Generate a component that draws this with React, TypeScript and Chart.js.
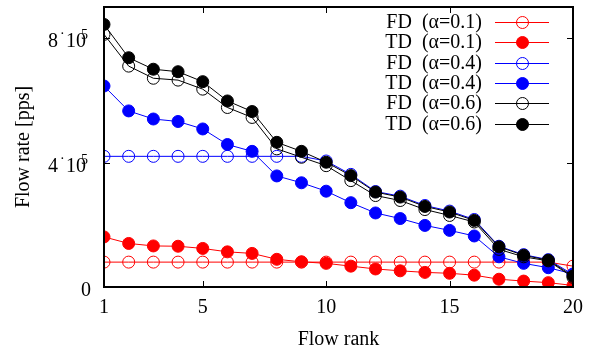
import React, { useEffect, useRef } from "react";
import { Chart, registerables } from "chart.js";

Chart.register(...registerables);

const ranks = [1, 2, 3, 4, 5, 6, 7, 8, 9, 10, 11, 12, 13, 14, 15, 16, 17, 18, 19, 20];
const xTickValues = [1, 5, 10, 15, 20];
const yTickValues = [0, 400000, 800000];
const yTickMantissa = ["0", "4", "8"];
const yTickExponent = ["", "5", "5"];

const fd01 = [80000, 80000, 80000, 80000, 80000, 80000, 80000, 80000, 80000, 80000, 80000, 80000, 80000, 80000, 80000, 80000, 80000, 80000, 80000, 67000];
const td01 = [161000, 140000, 132000, 131000, 124000, 113000, 108000, 89000, 81000, 76000, 67000, 58000, 52000, 47000, 44000, 38000, 25000, 19000, 14000, 5000];
const fd04 = [420000, 420000, 420000, 420000, 420000, 420000, 420000, 420000, 420000, 405000, 362000, 307000, 292000, 262000, 244000, 217000, 131000, 104000, 88000, 40000];
const td04 = [646000, 566000, 540000, 532000, 508000, 458000, 436000, 357000, 335000, 308000, 271000, 238000, 220000, 198000, 182000, 164000, 97000, 76000, 62000, 42000];
const fd06 = [812000, 710000, 671000, 665000, 636000, 577000, 545000, 444000, 417000, 390000, 342000, 294000, 278000, 249000, 230000, 209000, 121000, 97000, 84000, 31000];
const td06 = [844000, 737000, 700000, 692000, 660000, 598000, 564000, 465000, 436000, 401000, 358000, 305000, 289000, 259000, 241000, 214000, 129000, 102000, 86000, 35000];

const seriesLabels = ["FD  (α=0.1)", "TD  (α=0.1)", "FD  (α=0.4)", "TD  (α=0.4)", "FD  (α=0.6)", "TD  (α=0.6)"];
const seriesValues = [fd01, td01, fd04, td04, fd06, td06];
const seriesColors = ["#ff0000", "#ff0000", "#0000ff", "#0000ff", "#000000", "#000000"];
const seriesFilled = [false, true, false, true, false, true];

const FONT = "'Liberation Serif', 'Times New Roman', 'DejaVu Serif', serif";

const frameAndLegend = {
  id: "frameAndLegend",
  afterDraw(chart: any) {
    const ctx = chart.ctx;
    const xs = chart.scales.x;
    const ys = chart.scales.y;
    const L = xs.left;
    const R = xs.right;
    const T = ys.top;
    const B = ys.bottom;
    ctx.save();

    // y tick labels with raised dot and superscript exponent
    ctx.fillStyle = "#000";
    ctx.textBaseline = "alphabetic";
    for (let i = 0; i < yTickValues.length; i++) {
      const py = ys.getPixelForValue(yTickValues[i]);
      const base = py + 9;
      if (yTickExponent[i] === "") {
        ctx.font = `20px ${FONT}`;
        ctx.textAlign = "right";
        ctx.fillText(yTickMantissa[i], 91, base);
      } else {
        ctx.textAlign = "left";
        ctx.font = `20px ${FONT}`;
        ctx.fillText(yTickMantissa[i], 48, base);
        ctx.font = `14px ${FONT}`;
        ctx.fillText("·", 60, base - 9);
        ctx.font = `20px ${FONT}`;
        ctx.fillText("10", 66, base);
        ctx.font = `14px ${FONT}`;
        ctx.fillText(yTickExponent[i], 81, base - 8);
      }
    }

    // legend (gnuplot style: text, then line sample with marker)
    ctx.font = `20px ${FONT}`;
    ctx.textAlign = "right";
    ctx.textBaseline = "middle";
    const textRight = 482;
    const lineL = 495;
    const lineR = 549;
    const mx = 522.5;
    for (let i = 0; i < seriesLabels.length; i++) {
      const y = Math.round(22 + i * 20.3);
      ctx.fillStyle = "#000";
      ctx.fillText(seriesLabels[i], textRight, y + 1);
      ctx.strokeStyle = seriesColors[i];
      ctx.lineWidth = 1;
      ctx.beginPath();
      ctx.moveTo(lineL, y + 0.5);
      ctx.lineTo(lineR, y + 0.5);
      ctx.stroke();
      ctx.beginPath();
      ctx.arc(mx, y + 0.5, 6, 0, Math.PI * 2);
      if (seriesFilled[i]) {
        ctx.fillStyle = seriesColors[i];
        ctx.fill();
      }
      ctx.stroke();
    }

    // inward ticks on all four sides
    ctx.strokeStyle = "#000";
    ctx.lineWidth = 1;
    const tl = 6;
    ctx.beginPath();
    for (let i = 0; i < xTickValues.length; i++) {
      const px = Math.round(xs.getPixelForValue(xTickValues[i])) + 0.5;
      ctx.moveTo(px, B);
      ctx.lineTo(px, B - tl);
      ctx.moveTo(px, T);
      ctx.lineTo(px, T + tl);
    }
    for (let i = 0; i < yTickValues.length; i++) {
      const py = Math.round(ys.getPixelForValue(yTickValues[i])) + 0.5;
      ctx.moveTo(L, py);
      ctx.lineTo(L + tl, py);
      ctx.moveTo(R, py);
      ctx.lineTo(R - tl, py);
    }
    ctx.stroke();

    // plot frame
    ctx.lineWidth = 2;
    ctx.strokeRect(L, T, R - L, B - T);
    ctx.restore();
  },
};

export default function App() {
  const ref = useRef<HTMLCanvasElement | null>(null);
  useEffect(() => {
    document.body.style.margin = "0";
    const canvas = ref.current;
    if (!canvas) return;
    // index 0 is drawn last (on top), so list the series in reverse order
    const idx = [5, 4, 3, 2, 1, 0];
    const datasets = idx.map((i) => ({
      label: seriesLabels[i],
      data: ranks.map((r, j) => ({ x: r, y: seriesValues[i][j] })),
      borderColor: seriesColors[i],
      backgroundColor: seriesColors[i],
      borderWidth: 1,
      pointRadius: 6,
      pointBorderWidth: 1,
      pointBorderColor: seriesColors[i],
      pointBackgroundColor: seriesFilled[i] ? seriesColors[i] : "rgba(255,255,255,0)",
      tension: 0,
      fill: false,
    }));
    const chart = new Chart(canvas, {
      type: "line",
      data: { datasets },
      options: {
        responsive: false,
        animation: false,
        devicePixelRatio: 1,
        layout: { padding: { top: 6, right: 20, left: 0, bottom: 0 } },
        plugins: { legend: { display: false }, tooltip: { enabled: false } },
        scales: {
          x: {
            type: "linear",
            min: 1,
            max: 20,
            afterBuildTicks: (s: any) => {
              s.ticks = xTickValues.map((v) => ({ value: v }));
            },
            afterFit: (s: any) => {
              s.height = 65;
              s.paddingLeft = 0;
              s.paddingRight = 0;
            },
            grid: { display: false, drawTicks: false },
            border: { display: false },
            ticks: {
              color: "#000",
              padding: 9,
              maxRotation: 0,
              font: { family: FONT, size: 20 },
              callback: (v: any) => String(v),
            },
            title: {
              display: true,
              text: "Flow rank",
              color: "#000",
              font: { family: FONT, size: 20 },
              padding: { top: 0, bottom: 0 },
            },
          },
          y: {
            type: "linear",
            min: 0,
            max: 900000,
            afterBuildTicks: (s: any) => {
              s.ticks = yTickValues.map((v) => ({ value: v }));
            },
            afterFit: (s: any) => {
              s.width = 104;
              s.paddingTop = 0;
              s.paddingBottom = 0;
            },
            grid: { display: false, drawTicks: false },
            border: { display: false },
            ticks: { display: false },
            title: {
              display: true,
              text: "Flow rate [pps]",
              color: "#000",
              font: { family: FONT, size: 20 },
              padding: { top: 12, bottom: 0 },
            },
          },
        },
      },
      plugins: [frameAndLegend],
    });
    return () => chart.destroy();
  }, []);
  return (
    <div style={{ position: "fixed", left: 0, top: 0, width: 593, height: 352, background: "#fff" }}>
      <canvas ref={ref} width={593} height={352} style={{ width: 593, height: 352, display: "block" }} />
    </div>
  );
}
